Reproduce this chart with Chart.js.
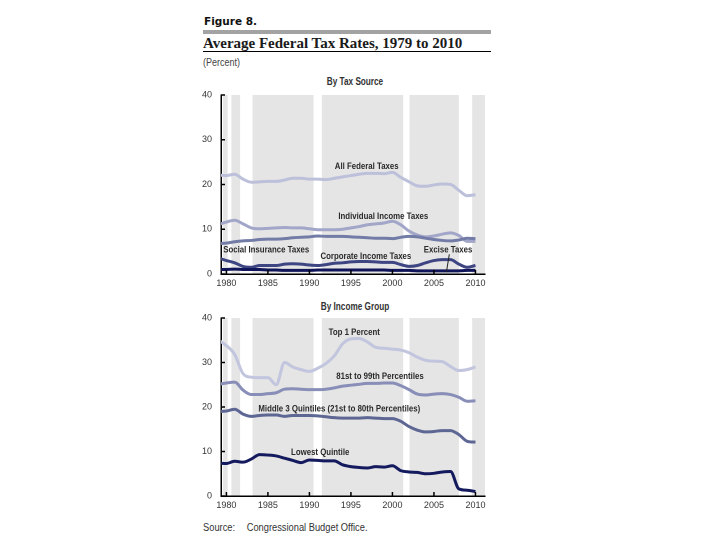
<!DOCTYPE html>
<html>
<head>
<meta charset="utf-8">
<script src="https://cdn.jsdelivr.net/npm/chart.js@4.4.0/dist/chart.umd.min.js"></script>
<style>
body { margin: 0; width: 720px; height: 540px; background: #fff; position: relative; font-family: "Liberation Sans Narrow", "Liberation Sans", Arial, sans-serif; }
.abs { position: absolute; white-space: nowrap; }
#fig { left: 204px; top: 15px; font: bold 10.5px "DejaVu Sans", sans-serif; color: #111; }
#rule1 { left: 203px; top: 30px; width: 288px; height: 4px; background: #a3a3a3; }
#title { left: 203px; top: 35px; font: bold 15px "Liberation Serif", serif; color: #1a1a1a; }
#rule2 { left: 203px; top: 51px; width: 288px; height: 1px; background: #000; }
#unit { left: 203px; top: 57px; font-size: 10px; color: #444; transform: scaleX(0.9); transform-origin: left; }
.sub { font-weight: bold; font-size: 10px; color: #333; transform: translateX(-50%) scaleX(0.82); }
#sub1 { left: 355px; top: 76px; }
#sub2 { left: 355px; top: 301px; }
#src { left: 203px; top: 522px; font-size: 10px; color: #333; transform: scaleX(0.93); transform-origin: left; }
#src span { position: absolute; left: 47px; }
#w1 { left: 195px; top: 88px; }
#w2 { left: 195px; top: 311px; }
</style>
</head>
<body>
<div class="abs" id="fig">Figure 8.</div>
<div class="abs" id="rule1"></div>
<div class="abs" id="title">Average Federal Tax Rates, 1979 to 2010</div>
<div class="abs" id="rule2"></div>
<div class="abs" id="unit">(Percent)</div>
<div class="abs sub" id="sub1">By Tax Source</div>
<div class="abs sub" id="sub2">By Income Group</div>
<div class="abs" id="w1"><canvas id="source" width="300" height="205"></canvas></div>
<div class="abs" id="w2"><canvas id="income" width="300" height="206"></canvas></div>
<div class="abs" id="src">Source:<span>Congressional Budget Office.</span></div>

<script>
const years = [1979, 1980, 1981, 1982, 1983, 1984, 1985, 1986, 1987, 1988, 1989,
    1990, 1991, 1992, 1993, 1994, 1995, 1996, 1997, 1998, 1999,
    2000, 2001, 2002, 2003, 2004, 2005, 2006, 2007, 2008, 2009, 2010]

const xTicks = [1980, 1985, 1990, 1995, 2000, 2005, 2010]
const yTicks = [0, 10, 20, 30, 40]

// shaded periods (white gaps between them are recessions)
const bandStarts = [1979.6, 1980.6, 1983.15, 1991.5, 2002.05, 2009.6]
const bandEnds = [1980.15, 1981.65, 1990.5, 2001.3, 2008.0, 2011.15]

// top panel: by tax source
const allFederal = [22.1, 22.0, 22.3, 21.2, 20.5, 20.6, 20.7, 20.7, 21.0, 21.4, 21.4,
    21.2, 21.2, 21.1, 21.4, 21.7, 22.0, 22.3, 22.5, 22.5, 22.4,
    22.7, 21.6, 20.6, 19.7, 19.6, 19.9, 20.1, 20.0, 18.7, 17.5, 17.7]
const individual = [11.0, 11.6, 12.0, 11.2, 10.3, 10.1, 10.2, 10.3, 10.4, 10.3, 10.3,
    10.1, 9.9, 9.9, 9.9, 10.0, 10.3, 10.6, 11.0, 11.2, 11.4,
    11.8, 11.0, 9.6, 8.7, 8.3, 8.5, 8.9, 9.2, 8.6, 7.3, 7.3]
const socialIns = [6.8, 6.9, 7.2, 7.4, 7.5, 7.7, 7.8, 7.8, 7.9, 8.1, 8.2,
    8.3, 8.5, 8.4, 8.4, 8.4, 8.3, 8.2, 8.1, 8.0, 8.0,
    7.9, 8.2, 8.4, 8.3, 8.0, 7.7, 7.5, 7.4, 7.6, 8.0, 7.9]
const corporate = [3.6, 3.0, 2.5, 1.7, 1.5, 1.9, 1.9, 1.9, 2.2, 2.3, 2.2,
    2.0, 1.9, 2.1, 2.4, 2.5, 2.7, 2.8, 2.8, 2.7, 2.6,
    2.6, 2.1, 1.7, 1.9, 2.5, 3.0, 3.2, 3.2, 2.2, 1.5, 1.9]
const excise = [1.0, 1.0, 1.1, 1.0, 1.0, 1.0, 0.9, 0.9, 0.8, 0.8, 0.8,
    0.8, 0.9, 0.9, 0.9, 0.9, 0.9, 0.9, 0.9, 0.9, 0.9,
    0.8, 0.8, 0.8, 0.7, 0.7, 0.7, 0.7, 0.7, 0.7, 0.8, 0.8]

// bottom panel: by income group
const top1 = [35.1, 33.8, 31.8, 27.5, 26.7, 26.6, 26.6, 25.0, 30.0, 29.0, 28.4,
    28.0, 28.7, 29.8, 31.5, 34.2, 35.3, 35.4, 34.6, 33.4, 33.2,
    33.0, 32.8, 32.2, 31.2, 30.5, 30.3, 30.2, 29.1, 28.2, 28.4, 29.0]
const pct81to99 = [25.1, 25.4, 25.6, 23.8, 22.8, 22.8, 23.0, 23.2, 24.0, 24.1, 24.0,
    23.9, 23.9, 24.0, 24.3, 24.7, 24.9, 25.1, 25.3, 25.3, 25.4,
    25.4, 24.8, 23.9, 22.9, 22.7, 22.9, 23.0, 22.8, 22.2, 21.3, 21.4]
const middle3 = [19.0, 19.1, 19.5, 18.4, 17.9, 18.1, 18.2, 18.2, 17.9, 18.1, 18.1,
    18.1, 18.0, 17.8, 17.6, 17.5, 17.5, 17.5, 17.6, 17.5, 17.4,
    17.4, 16.8, 15.6, 14.8, 14.4, 14.5, 14.7, 14.7, 13.8, 12.3, 12.1]
const lowest = [7.4, 7.3, 7.8, 7.6, 8.3, 9.3, 9.2, 9.0, 8.5, 8.0, 7.5,
    8.1, 8.0, 7.9, 7.9, 7.0, 6.6, 6.4, 6.3, 6.6, 6.5,
    6.8, 5.7, 5.4, 5.3, 5.0, 5.1, 5.4, 5.5, 1.6, 1.3, 1.0]

// in-chart labels, placed in data units
const sourceLabels = ['All Federal Taxes', 'Individual Income Taxes', 'Social Insurance Taxes', 'Corporate Income Taxes', 'Excise Taxes']
const sourceLabelX = [1996.9, 1998.9, 1984.8, 1996.8, 2006.7]
const sourceLabelY = [24.0, 12.8, 5.4, 3.9, 5.4]
const incomeLabels = ['Top 1 Percent', '81st to 99th Percentiles', 'Middle 3 Quintiles (21st to 80th Percentiles)', 'Lowest Quintile']
const incomeLabelX = [1995.4, 1998.5, 1993.6, 1991.3]
const incomeLabelY = [36.7, 26.8, 19.6, 9.8]
// pointer from "Excise Taxes" down to its line
const pointerX = [2006.85, 2006.5]
const pointerY = [4.4, 0.4]

const fontFam = '"Liberation Sans Narrow", "Liberation Sans", Arial, sans-serif'

const toPoints = (vals) => vals.map((v, i) => ({ x: years[i], y: v }))

const line = (label, vals, color, order) => ({
    label: label,
    data: toPoints(vals),
    borderColor: color,
    borderWidth: 3,
    pointRadius: 0,
    cubicInterpolationMode: 'monotone',
    order: order
})

const shadePlugin = {
    id: 'shade',
    beforeDraw(chart) {
        const { ctx, chartArea, scales: { x, y } } = chart
        const top = y.getPixelForValue(40)
        const bottom = y.getPixelForValue(0)
        ctx.save()
        ctx.fillStyle = '#e5e5e5'
        bandStarts.forEach((s, i) => {
            const x0 = Math.max(x.getPixelForValue(s), chartArea.left + 1)
            const x1 = Math.min(x.getPixelForValue(bandEnds[i]), chartArea.right)
            ctx.fillRect(x0, top, x1 - x0, bottom - top)
        })
        ctx.restore()
    }
}

const textPlugin = (texts, lx, ly, pointer) => ({
    id: 'texts',
    afterDatasetsDraw(chart) {
        const { ctx, chartArea, scales: { x, y } } = chart
        ctx.save()
        // small inside tick marks
        ctx.strokeStyle = '#000'
        ctx.lineWidth = 1.5
        xTicks.forEach(t => {
            const px = x.getPixelForValue(t)
            ctx.beginPath()
            ctx.moveTo(px, chartArea.bottom)
            ctx.lineTo(px, chartArea.bottom - 4)
            ctx.stroke()
        })
        yTicks.forEach(t => {
            const py = y.getPixelForValue(t)
            ctx.beginPath()
            ctx.moveTo(chartArea.left, py)
            ctx.lineTo(chartArea.left + 4, py)
            ctx.stroke()
        })
        ctx.font = 'bold 9px ' + fontFam
        ctx.fillStyle = '#2a2a2a'
        ctx.textAlign = 'center'
        ctx.textBaseline = 'middle'
        texts.forEach((t, i) => {
            // squeeze to mimic the condensed face of the original
            const w = ctx.measureText(t).width * 0.87
            ctx.fillText(t, x.getPixelForValue(lx[i]), y.getPixelForValue(ly[i]), w)
        })
        if (pointer) {
            ctx.lineWidth = 1
            ctx.strokeStyle = '#222'
            ctx.beginPath()
            ctx.moveTo(x.getPixelForValue(pointer[0][0]), y.getPixelForValue(pointer[1][0]))
            ctx.lineTo(x.getPixelForValue(pointer[0][1]), y.getPixelForValue(pointer[1][1]))
            ctx.stroke()
        }
        ctx.restore()
    }
})

const makeOptions = (xHeight) => ({
    responsive: false,
    animation: false,
    devicePixelRatio: 2,
    layout: { padding: { top: 7, right: 10, left: 0, bottom: 0 } },
    plugins: { legend: { display: false }, tooltip: { enabled: false } },
    scales: {
        x: {
            type: 'linear',
            min: 1979.35,
            max: 2011.15,
            afterBuildTicks: (s) => { s.ticks = xTicks.map(v => ({ value: v })) },
            afterFit: (s) => { s.height = xHeight; s.paddingLeft = 0; s.paddingRight = 0 },
            ticks: { padding: 4, color: '#333', font: { family: fontFam, size: 9 }, callback: (v) => String(v), maxRotation: 0 },
            grid: { display: false, drawTicks: false },
            border: { color: '#000', width: 1.5 }
        },
        y: {
            min: 0,
            max: 40,
            afterBuildTicks: (s) => { s.ticks = yTicks.map(v => ({ value: v })) },
            afterFit: (s) => { s.width = 26; s.paddingTop = 0; s.paddingBottom = 0 },
            ticks: { padding: 9, color: '#333', font: { family: fontFam, size: 9 } },
            grid: { display: false, drawTicks: false },
            border: { color: '#000', width: 1.5 }
        }
    }
})

const sourceChart = new Chart(document.getElementById('source'), {
    type: 'line',
    data: {
        datasets: [
            line('All Federal Taxes', allFederal, '#bcc0da', 5),
            line('Individual Income Taxes', individual, '#a2a6c8', 4),
            line('Social Insurance Taxes', socialIns, '#737ba7', 3),
            line('Corporate Income Taxes', corporate, '#3d4583', 2),
            line('Excise Taxes', excise, '#11165a', 1)
        ]
    },
    options: makeOptions(19),
    plugins: [shadePlugin, textPlugin(sourceLabels, sourceLabelX, sourceLabelY, [pointerX, pointerY])]
})

const incomeChart = new Chart(document.getElementById('income'), {
    type: 'line',
    data: {
        datasets: [
            line('Top 1 Percent', top1, '#c2c5de', 4),
            line('81st to 99th Percentiles', pct81to99, '#888eb7', 3),
            line('Middle 3 Quintiles (21st to 80th Percentiles)', middle3, '#5e6694', 2),
            line('Lowest Quintile', lowest, '#141a5e', 1)
        ]
    },
    options: makeOptions(21),
    plugins: [shadePlugin, textPlugin(incomeLabels, incomeLabelX, incomeLabelY, null)]
})
</script>
</body>
</html>
